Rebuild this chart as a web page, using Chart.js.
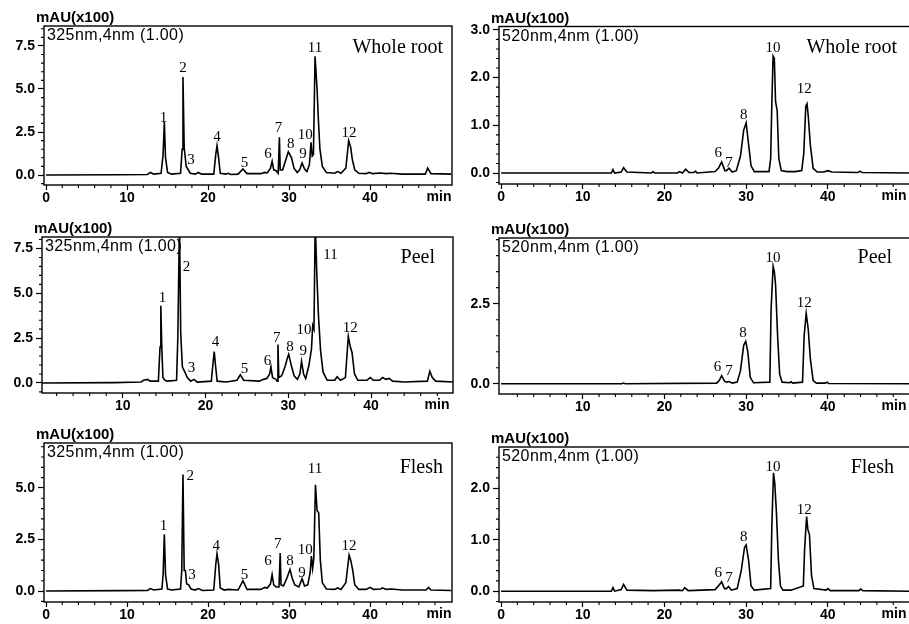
<!DOCTYPE html>
<html>
<head>
<meta charset="utf-8">
<script src="https://cdn.jsdelivr.net/npm/chart.js@4/dist/chart.umd.min.js"></script>
<style>
  html, body { margin: 0; padding: 0; width: 909px; height: 624px; overflow: hidden; background: #fff; }
  canvas { position: absolute; left: 0; top: 0; }
</style>
</head>
<body>
<canvas id="c1" width="930" height="650"></canvas>
<canvas id="c2" width="930" height="650"></canvas>
<canvas id="c3" width="930" height="650"></canvas>
<canvas id="c4" width="930" height="650"></canvas>
<canvas id="c5" width="930" height="650"></canvas>
<canvas id="c6" width="930" height="650"></canvas>
<script>
// retention time (min) and absorbance (mAU x100)

// whole root, 325 nm
const wr325Time = [0, 9, 12.5, 12.9, 13.3, 14.2, 14.45, 14.6, 14.75, 15.0, 15.5, 16.6, 16.8, 16.9, 17.05, 17.3, 17.5, 17.8, 18.4, 18.8, 19.2, 20.7, 20.95, 21.1, 21.3, 21.5, 22.2, 22.5, 22.8, 23.7, 24.3, 24.8, 26.5, 27.0, 27.3, 27.7, 27.9, 28.1, 28.4, 28.65, 28.8, 28.9, 29.2, 29.6, 29.9, 30.3, 30.6, 31.0, 31.3, 31.6, 31.9, 32.2, 32.5, 32.7, 32.85, 33.0, 33.2, 33.45, 33.6, 33.8, 34.1, 34.6, 35.6, 36.0, 36.4, 37.0, 37.35, 37.6, 37.8, 38.1, 38.6, 39.5, 39.9, 40.3, 41.3, 42.0, 42.5, 44, 46.8, 47.1, 47.5, 50];
const wr325Abs = [0, 0.02, 0.03, 0.15, 0.05, 0.1, 1.2, 3.1, 1.0, 0.15, 0.05, 0.1, 1.5, 5.7, 1.6, 0.5, 0.35, 0.1, 0.05, 0.15, 0.05, 0.05, 1.2, 1.7, 1.0, 0.1, 0.05, 0.1, 0.03, 0.05, 0.35, 0.08, 0.08, 0.15, 0.12, 0.4, 0.8, 0.3, 0.25, 0.1, 2.2, 0.3, 0.3, 0.9, 1.35, 1.0, 0.4, 0.15, 0.3, 0.7, 0.35, 0.2, 0.6, 1.9, 1.1, 1.2, 6.9, 5.0, 3.3, 1.5, 0.5, 0.15, 0.1, 0.2, 0.1, 0.4, 2.0, 1.6, 0.9, 0.3, 0.1, 0.08, 0.15, 0.08, 0.12, 0.08, 0.1, 0.05, 0.05, 0.4, 0.08, 0.05];

// peel, 325 nm
const peel325Time = [0, 9, 12.2, 12.5, 13.0, 13.3, 14.3, 14.5, 14.6, 14.7, 14.85, 15.1, 15.4, 16.5, 16.65, 16.85, 17.0, 17.2, 17.5, 17.8, 18.2, 18.6, 19.0, 20.7, 20.9, 21.05, 21.2, 21.4, 22.5, 23.8, 24.2, 24.6, 26.5, 27.0, 27.4, 27.75, 27.9, 28.1, 28.5, 28.65, 28.75, 28.85, 29.2, 29.6, 29.9, 30.05, 30.4, 30.7, 31.1, 31.4, 31.6, 31.85, 32.1, 32.5, 32.8, 32.95, 33.1, 33.25, 33.45, 33.65, 33.9, 34.2, 34.7, 35.6, 35.9, 36.3, 36.9, 37.25, 37.5, 37.7, 38.0, 38.4, 39.5, 39.9, 40.3, 41.0, 41.4, 41.8, 42.2, 42.6, 44, 46.8, 47.1, 47.4, 47.8, 50];
const peel325Abs = [0, 0.02, 0.05, 0.15, 0.2, 0.1, 0.1, 2.0, 4.3, 2.2, 0.3, 0.15, 0.1, 0.15, 2.5, 9.0, 2.8, 0.9, 0.6, 0.3, 0.1, 0.2, 0.05, 0.1, 1.1, 1.75, 1.0, 0.1, 0.05, 0.15, 0.45, 0.15, 0.1, 0.2, 0.25, 0.5, 0.9, 0.3, 0.2, 0.1, 2.15, 0.3, 0.4, 0.9, 1.4, 1.6, 0.9, 0.4, 0.2, 0.5, 1.2, 0.5, 0.25, 1.0, 1.9, 3.2, 3.0, 9.0, 6.0, 3.7, 1.8, 0.6, 0.15, 0.15, 0.35, 0.15, 0.3, 2.6, 2.0, 1.7, 0.5, 0.15, 0.15, 0.3, 0.15, 0.15, 0.3, 0.2, 0.25, 0.1, 0.05, 0.1, 0.65, 0.3, 0.1, 0.05];

// flesh, 325 nm
const flesh325Time = [0, 9, 12.5, 12.9, 13.3, 14.3, 14.45, 14.6, 14.75, 15.0, 15.5, 16.6, 16.75, 16.9, 17.05, 17.2, 17.35, 17.6, 17.9, 18.4, 18.8, 19.3, 20.7, 20.95, 21.1, 21.3, 21.5, 22.0, 22.4, 23.7, 24.3, 24.8, 26.5, 27.0, 27.3, 27.7, 27.9, 28.1, 28.4, 28.75, 28.9, 29.0, 29.3, 29.7, 30.1, 30.4, 30.7, 31.2, 31.6, 31.9, 32.3, 32.6, 32.75, 32.9, 33.05, 33.25, 33.45, 33.65, 33.85, 34.1, 34.6, 35.6, 36.0, 36.4, 37.0, 37.4, 37.6, 37.85, 38.1, 38.6, 39.5, 40.0, 40.4, 41.3, 41.5, 42.0, 42.6, 44, 46.9, 47.2, 47.5, 50];
const flesh325Abs = [0, 0.02, 0.03, 0.12, 0.05, 0.1, 0.8, 2.75, 0.8, 0.1, 0.05, 0.1, 1.0, 5.65, 1.0, 1.0, 0.35, 0.3, 0.1, 0.05, 0.12, 0.03, 0.05, 1.3, 1.8, 1.3, 0.15, 0.05, 0.08, 0.05, 0.5, 0.08, 0.08, 0.18, 0.15, 0.35, 0.8, 0.3, 0.2, 0.2, 1.85, 0.3, 0.25, 0.6, 1.05, 0.6, 0.3, 0.2, 0.6, 0.25, 0.3, 0.9, 1.7, 1.1, 1.6, 5.15, 3.9, 3.8, 1.5, 0.4, 0.1, 0.08, 0.15, 0.08, 0.4, 1.75, 1.5, 1.0, 0.3, 0.08, 0.08, 0.18, 0.08, 0.1, 0.15, 0.08, 0.1, 0.05, 0.05, 0.18, 0.05, 0.03];

// whole root, 520 nm
const wr520Time = [0, 13.5, 13.7, 13.9, 14.7, 15.0, 15.4, 18.4, 18.6, 18.8, 21.6, 21.8, 22.2, 22.6, 23.0, 23.6, 23.8, 24.0, 26.2, 26.6, 27.0, 27.4, 27.6, 27.9, 28.3, 28.8, 29.3, 29.7, 30.0, 30.3, 30.6, 31.0, 32.8, 33.0, 33.15, 33.3, 33.45, 33.6, 33.8, 34.0, 34.3, 35.0, 36.0, 36.8, 37.05, 37.3, 37.45, 37.6, 37.85, 38.2, 38.7, 39.5, 40.0, 40.5, 43.7, 43.9, 44.2, 50];
const wr520Abs = [0, 0, 0.07, 0, 0.02, 0.11, 0.02, 0, 0.03, 0, 0, 0.03, 0, 0.08, 0.01, 0.01, 0.04, 0, 0.03, 0.1, 0.23, 0.05, 0.05, 0.1, 0.02, 0.05, 0.35, 0.9, 1.05, 0.6, 0.15, 0.03, 0.03, 0.3, 1.5, 2.45, 2.4, 1.5, 1.3, 0.3, 0.05, 0.03, 0.03, 0.05, 0.4, 1.4, 1.45, 1.2, 0.6, 0.1, 0.02, 0.02, 0.05, 0.02, 0.01, 0.04, 0.01, 0];

// peel, 520 nm
const peel520Time = [0, 14.8, 15.0, 15.2, 26.4, 26.7, 27.0, 27.35, 27.6, 27.9, 28.3, 28.9, 29.3, 29.7, 29.95, 30.2, 30.5, 30.9, 32.9, 33.05, 33.3, 33.45, 33.6, 33.85, 34.1, 34.4, 35.3, 35.5, 35.7, 36.9, 37.1, 37.35, 37.6, 37.85, 38.2, 38.6, 39.7, 39.9, 40.1, 50];
const peel520Abs = [0, 0, 0.02, 0, 0.02, 0.1, 0.25, 0.08, 0.05, 0.07, 0.02, 0.05, 0.4, 1.2, 1.32, 1.0, 0.2, 0.03, 0.05, 2.3, 3.67, 3.5, 3.1, 1.5, 0.3, 0.05, 0.03, 0.06, 0.02, 0.05, 1.5, 2.2, 1.7, 0.8, 0.1, 0.02, 0.02, 0.05, 0.01, 0];

// flesh, 520 nm
const flesh520Time = [0, 13.5, 13.7, 13.9, 14.7, 15.0, 15.4, 18.6, 21.8, 22.2, 22.5, 22.9, 26.2, 26.6, 27.0, 27.35, 27.6, 27.85, 28.2, 28.9, 29.4, 29.8, 30.0, 30.3, 30.6, 31.0, 33.0, 33.15, 33.35, 33.5, 33.7, 33.95, 34.2, 34.5, 35.5, 37.0, 37.15, 37.4, 37.55, 37.75, 38.0, 38.3, 39.8, 40.0, 40.3, 43.8, 44.0, 44.3, 50];
const flesh520Abs = [0, 0, 0.07, 0, 0.03, 0.13, 0.02, 0.01, 0.02, 0.01, 0.07, 0.01, 0.03, 0.1, 0.18, 0.05, 0.05, 0.09, 0.02, 0.05, 0.4, 0.85, 0.9, 0.6, 0.1, 0.02, 0.05, 1.3, 2.3, 2.1, 1.55, 0.6, 0.1, 0.02, 0.02, 0.1, 0.8, 1.45, 1.2, 1.1, 0.3, 0.05, 0.02, 0.05, 0.01, 0.01, 0.04, 0.01, 0];

// peak numbers and where their labels sit (time, absorbance)
const peaks325 = ['1', '2', '3', '4', '5', '6', '7', '8', '9', '10', '11', '12'];
const peaks520 = ['6', '7', '8', '10', '12'];
const wr325LabelT = [14.5, 16.9, 17.9, 21.1, 24.5, 27.4, 28.7, 30.2, 31.7, 32.0, 33.2, 37.4];
const wr325LabelY = [3.3, 6.2, 0.87, 2.2, 0.68, 1.2, 2.7, 1.8, 1.2, 2.33, 7.37, 2.46];
const peel325LabelT = [14.8, 17.7, 18.3, 21.2, 24.7, 27.5, 28.6, 30.2, 31.8, 31.9, 35.1, 37.5];
const peel325LabelY = [4.76, 6.48, 0.83, 2.3, 0.78, 1.2, 2.5, 1.98, 1.76, 2.96, 7.13, 3.06];
const flesh325LabelT = [14.5, 17.8, 18.0, 21.0, 24.5, 27.4, 28.6, 30.1, 31.6, 32.0, 33.2, 37.4];
const flesh325LabelY = [3.15, 5.56, 0.8, 2.18, 0.8, 1.45, 2.26, 1.45, 0.89, 2.0, 5.9, 2.18];
const wr520LabelT = [26.6, 27.9, 29.7, 33.3, 37.1];
const wr520LabelY = [0.42, 0.21, 1.22, 2.62, 1.75];
const peel520LabelT = [26.5, 27.9, 29.6, 33.3, 37.1];
const peel520LabelY = [0.51, 0.41, 1.58, 3.93, 2.52];
const flesh520LabelT = [26.6, 27.9, 29.7, 33.3, 37.1];
const flesh520LabelY = [0.35, 0.26, 1.06, 2.42, 1.58];

// axis ticks
const timeTicks = [0, 10, 20, 30, 40];
const timeTicksPeel = [10, 20, 30, 40];
const abs325Ticks = [0, 2.5, 5.0, 7.5];
const abs325FleshTicks = [0, 2.5, 5.0];
const wr520Ticks = [0, 1, 2, 3];
const peel520Ticks = [0, 2.5];
const flesh520Ticks = [0, 1, 2];

const SANS = '"Liberation Sans", Arial, sans-serif';
const SERIF = '"Liberation Serif", "Times New Roman", serif';
const Y_W = 44, X_H = 22, CW = 930, CH = 650;

const panels = [
  { id: 'c1', time: wr325Time, abs: wr325Abs, names: peaks325, lt: wr325LabelT, ly: wr325LabelY,
    frame: [44, 26, 452, 185], x: [-0.25, 50.1], y: [-0.58, 8.66], xt: timeTicks, yt: abs325Ticks, yMinor: 0.5,
    wave: '325nm,4nm (1.00)', sample: 'Whole root', sampleRight: 399, sampleY: 22 },
  { id: 'c2', time: wr520Time, abs: wr520Abs, names: peaks520, lt: wr520LabelT, ly: wr520LabelY,
    frame: [499, 26.5, 912, 184], x: [-0.25, 50.3], y: [-0.23, 3.07], xt: timeTicks, yt: wr520Ticks, yMinor: 0.2,
    wave: '520nm,4nm (1.00)', sample: 'Whole root', sampleRight: 398, sampleY: 21 },
  { id: 'c3', time: peel325Time, abs: peel325Abs, names: peaks325, lt: peel325LabelT, ly: peel325LabelY,
    frame: [42, 237, 453, 393], x: [0.24, 49.9], y: [-0.56, 8.14], xt: timeTicksPeel, yt: abs325Ticks, yMinor: 0.5,
    wave: '325nm,4nm (1.00)', sample: 'Peel', sampleRight: 393, sampleY: 21 },
  { id: 'c4', time: peel520Time, abs: peel520Abs, names: peaks520, lt: peel520LabelT, ly: peel520LabelY,
    frame: [499, 238, 912, 394], x: [-0.25, 50.3], y: [-0.32, 4.55], xt: timeTicksPeel, yt: peel520Ticks, yMinor: 0.5,
    wave: '520nm,4nm (1.00)', sample: 'Peel', sampleRight: 393, sampleY: 20 },
  { id: 'c5', time: flesh325Time, abs: flesh325Abs, names: peaks325, lt: flesh325LabelT, ly: flesh325LabelY,
    frame: [44, 443, 452, 602], x: [-0.25, 50.1], y: [-0.53, 7.18], xt: timeTicks, yt: abs325FleshTicks, yMinor: 0.5,
    wave: '325nm,4nm (1.00)', sample: 'Flesh', sampleRight: 399, sampleY: 25 },
  { id: 'c6', time: flesh520Time, abs: flesh520Abs, names: peaks520, lt: flesh520LabelT, ly: flesh520LabelY,
    frame: [499, 447, 912, 602], x: [-0.25, 50.3], y: [-0.21, 2.8], xt: timeTicks, yt: flesh520Ticks, yMinor: 0.2,
    wave: '520nm,4nm (1.00)', sample: 'Flesh', sampleRight: 395, sampleY: 21 }
];

function decor(p) {
  return {
    id: 'decor',
    afterDraw(chart) {
      const { ctx, chartArea: a, scales: { x, y } } = chart;
      ctx.save();
      ctx.strokeStyle = '#000';
      ctx.lineWidth = 1.4;
      ctx.strokeRect(a.left, a.top, a.right - a.left, a.bottom - a.top);

      // minor ticks
      ctx.lineWidth = 1.1;
      ctx.beginPath();
      for (let t = 2; t <= 50; t += 2) {
        if (t % 10 === 0) continue;
        const px = x.getPixelForValue(t);
        if (px < a.left || px > a.right) continue;
        ctx.moveTo(px, a.bottom);
        ctx.lineTo(px, a.bottom + 3);
      }
      for (let k = Math.ceil(p.y[0] / p.yMinor); k * p.yMinor <= p.y[1]; k++) {
        const v = +(k * p.yMinor).toFixed(3);
        if (p.yt.some(m => Math.abs(m - v) < 1e-6)) continue;
        const py = y.getPixelForValue(v);
        ctx.moveTo(a.left - 3, py);
        ctx.lineTo(a.left, py);
      }
      ctx.stroke();

      ctx.fillStyle = '#000';
      ctx.font = 'bold 15px ' + SANS;
      ctx.textAlign = 'left';
      ctx.textBaseline = 'middle';
      ctx.fillText('mAU(x100)', a.left - 8, a.top - 8);
      ctx.font = '16px ' + SANS;
      ctx.letterSpacing = '0.4px';
      ctx.fillText(p.wave, a.left + 3, a.top + 10);
      ctx.letterSpacing = '0px';

      ctx.font = 'bold 14px ' + SANS;
      ctx.textAlign = 'center';
      ctx.textBaseline = 'top';
      ctx.fillText('min', a.left + 395, a.bottom + 5);

      ctx.font = '20px ' + SERIF;
      ctx.textAlign = 'right';
      ctx.textBaseline = 'middle';
      ctx.fillText(p.sample, a.left + p.sampleRight, a.top + p.sampleY);

      ctx.font = '15px ' + SERIF;
      ctx.textAlign = 'center';
      p.names.forEach((n, i) => {
        ctx.fillText(n, x.getPixelForValue(p.lt[i]), y.getPixelForValue(p.ly[i]));
      });
      ctx.restore();
    }
  };
}

panels.forEach(p => {
  const [l, t, r, b] = p.frame;
  new Chart(document.getElementById(p.id), {
    type: 'line',
    data: {
      datasets: [{
        data: p.time.map((tm, i) => ({ x: tm, y: p.abs[i] })),
        borderColor: '#000',
        borderWidth: 1.6,
        pointRadius: 0,
        tension: 0,
        fill: false
      }]
    },
    options: {
      responsive: false,
      animation: false,
      events: [],
      layout: {
        autoPadding: false,
        padding: { left: l - Y_W, top: t, right: CW - r, bottom: CH - b - X_H }
      },
      plugins: { legend: { display: false }, tooltip: { enabled: false } },
      scales: {
        x: {
          type: 'linear', min: p.x[0], max: p.x[1],
          afterBuildTicks: s => { s.ticks = p.xt.map(v => ({ value: v })); },
          afterFit: s => { s.height = X_H; },
          grid: { drawOnChartArea: false, tickLength: 5, tickColor: '#000', tickWidth: 1.2 },
          border: { display: false },
          ticks: { color: '#000', padding: 0, maxRotation: 0, font: { family: SANS, size: 14, weight: 'bold' }, callback: v => String(v) }
        },
        y: {
          type: 'linear', min: p.y[0], max: p.y[1],
          afterBuildTicks: s => { s.ticks = p.yt.map(v => ({ value: v })); },
          afterFit: s => { s.width = Y_W; },
          grid: { drawOnChartArea: false, tickLength: 6, tickColor: '#000', tickWidth: 1.2 },
          border: { display: false },
          ticks: { color: '#000', padding: 3, font: { family: SANS, size: 14, weight: 'bold' }, callback: v => v.toFixed(1) }
        }
      }
    },
    plugins: [decor(p)]
  });
});
</script>
</body>
</html>
